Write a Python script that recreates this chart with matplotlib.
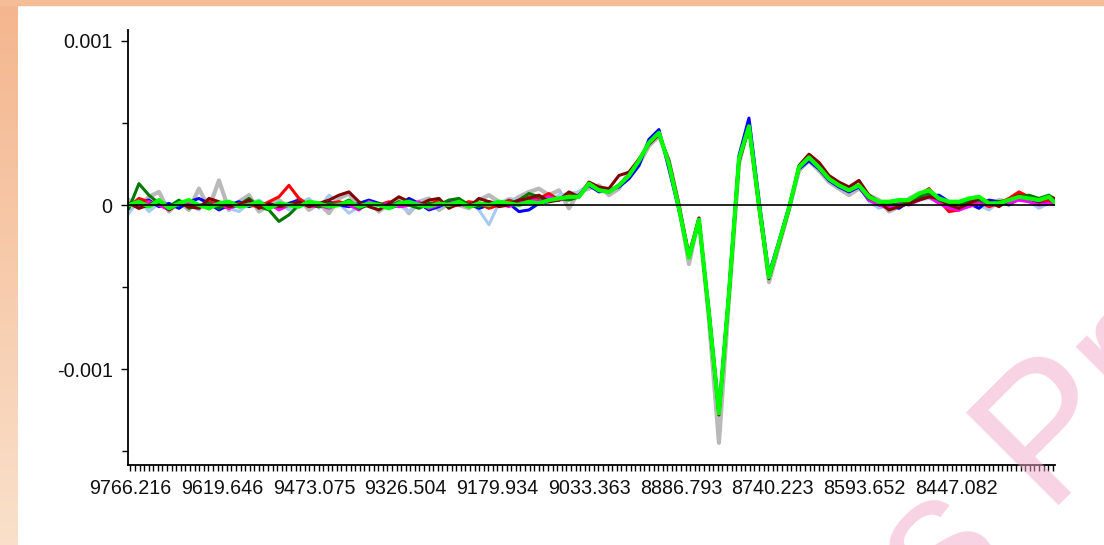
import matplotlib

matplotlib.use('Agg')

import matplotlib.pyplot as plt
from matplotlib.patches import Rectangle
from matplotlib.colors import LinearSegmentedColormap
from matplotlib import ticker
import numpy as np

plt.rcParams['font.family'] = ['Liberation Sans', 'DejaVu Sans']

# wavenumber grid (cm-1), descending, one point every ~16 units
WN_START = 9768.5
WN_STEP = -15.97
N_POINTS = 94

# x tick labels as printed by the instrument software
X_LABELS = ['9766.216', '9619.646', '9473.075', '9326.504', '9179.934',
            '9033.363', '8886.793', '8740.223', '8593.652', '8447.082']
Y_LABELS = ['-0.001', '0', '0.001']
Y_MAJOR = [-0.001, 0.0, 0.001]
Y_MINOR = [-0.0015, -0.0005, 0.0005]

# values in units of 1e-5, split in baseline (left), band (middle), baseline (right)
LEFT_BLUE = [0, 2, 3, -1, 1, -2, 2, 4, 1, -3, 0, 2, -1, 1, 0, -2, 1, 3, 0, -1,
             2, 0, -1, 1, 3, 1, -2, 0, 4, 1, -3, -1, 2, 0, 1, -2, 0, 2, 1, -4,
             -3, 1, 2, 4, 5, 6]
LEFT_RED = [-1, 4, 2, 0, -2, 1, 0, -1, 2, 0, -2, 1, 0, -1, 2, 5, 12, 4, 0, -1,
            1, 2, 0, -2, 1, 0, 2, -1, 0, 1, 0, 3, -1, 0, 2, 1, -2, 0, 3, 1,
            5, 4, 7, 3, 6, 5]
LEFT_DARKRED = [1, -2, 0, 3, -3, 1, -1, -2, 4, 2, -1, 0, 3, -2, 1, -1, 0, 2, -1, 1,
                3, 6, 8, 2, -1, -3, 1, 5, 2, 0, 3, 4, -2, 1, -1, 4, 2, -1, 0, 3,
                4, 6, 2, 3, 8, 5]
LEFT_DARKGREEN = [-2, 13, 6, 1, -1, 3, -2, 0, 1, -2, 2, 0, 4, -1, -3, -10, -6, 0, 2, -1,
                  1, 0, 3, -2, 0, 1, -1, 2, 0, -2, 1, 0, 3, 4, 0, -1, 2, 0, 1, 3,
                  7, 5, 2, 4, 3, 5]
LEFT_MAGENTA = [1, -1, 2, 0, -3, 1, 2, -1, 0, 1, -2, 0, 2, -1, 1, -3, 0, 2, -1, 0,
                -2, 1, 0, -3, 2, 0, 1, -1, 0, 2, -2, 0, 1, 3, -1, 0, 2, 1, -1, 2,
                4, 2, 5, 3, 4, 6]
LEFT_LIGHTBLUE = [-5, 3, -4, 1, -2, 2, 0, -3, 2, 1, -2, -4, 1, 3, -1, 2, -3, 1, 4, -2,
                  6, 1, -5, -1, 2, -3, 1, 0, -4, 2, 1, -2, 3, 0, 2, -3, -12, 1, 4, 3,
                  2, 5, 3, 6, 7, 8]
LEFT_GRAY = [3, -2, 5, 8, -4, 2, -3, 10, -2, 15, -3, 2, 6, -4, 0, 3, -2, 4, -3, 1,
             -5, 4, 7, -2, 2, -4, 1, 3, -5, 2, 4, -3, 1, 0, -2, 3, 6, 2, 1, 5,
             8, 10, 6, 9, -2, 8]
LEFT_LIME = [0, 2, -1, 3, -2, 1, 3, 0, -2, 1, 2, -1, 0, 2, -2, 1, 0, -1, 2, 1,
             -1, 0, 2, -1, 1, 0, -2, 1, 2, 0, -1, 1, 0, 2, -1, 1, 0, 2, 1, 0,
             2, 1, 3, 4, 5, 5]

PEAK_MAIN = [13, 9, 8, 12, 18, 27, 38, 44, 25, -2, -32, -9, -66, -127, -54, 28, 48, 0,
             -44, -23, -2, 23, 29, 23, 16, 12, 9, 12]
PEAK_GRAY = [10, 12, 6, 10, 20, 25, 36, 42, 27, 0, -36, -8, -70, -145, -58, 25, 50, 2,
             -47, -25, -3, 21, 27, 21, 14, 10, 6, 10]
PEAK_BLUE = [12, 8, 9, 11, 16, 24, 40, 46, 22, -3, -31, -10, -64, -125, -52, 30, 53, 3,
             -42, -22, -1, 22, 27, 22, 15, 11, 8, 11]
PEAK_DARKRED = [14, 11, 10, 18, 20, 28, 37, 43, 27, 0, -30, -8, -68, -128, -56, 26, 47, -2,
                -45, -24, -3, 24, 31, 26, 18, 14, 11, 15]

RIGHT_BLUE = [3, 1, 0, -2, 2, 4, 5, 6, 2, 0, 1, -2, 3, 2, 0, 4, 3, 1, 2, 0]
RIGHT_RED = [4, 0, -1, 1, 3, 6, 10, 3, -4, -3, 0, 2, -1, 1, 4, 8, 5, 2, 3, 1]
RIGHT_DARKRED = [6, 2, -3, -1, 1, 3, 5, 4, 0, -2, 1, 4, 2, -1, 3, 6, 4, 2, 5, 3]
RIGHT_DARKGREEN = [4, 2, 1, 0, 2, 5, 7, 3, 1, 0, 2, 3, 1, 2, 3, 5, 6, 4, 6, 2]
RIGHT_MAGENTA = [3, 0, -2, 1, 0, 3, 5, 1, -2, -3, -1, 1, 0, 2, 1, 3, 2, 0, 1, 0]
RIGHT_LIGHTBLUE = [2, -2, 0, -1, 1, 3, 4, 2, 0, -2, 1, 0, -3, 2, 1, 4, 2, -2, 1, 0]
RIGHT_GRAY = [6, 3, -4, -1, 4, 7, 8, 5, -2, -3, 2, 1, -1, 3, 2, 5, 4, 1, 2, 0]
RIGHT_LIME = [5, 2, 2, 3, 3, 7, 9, 4, 2, 2, 4, 5, 1, 1, 3, 5, 4, 3, 5, -1]

# drawing order: first is bottom
SERIES = [
    ('#B9B9B9', 3.0, LEFT_GRAY, PEAK_GRAY, RIGHT_GRAY),
    ('#A6CAF0', 2.2, LEFT_LIGHTBLUE, PEAK_MAIN, RIGHT_LIGHTBLUE),
    ('#0000FF', 2.2, LEFT_BLUE, PEAK_BLUE, RIGHT_BLUE),
    ('#FF0000', 2.2, LEFT_RED, PEAK_MAIN, RIGHT_RED),
    ('#FF00FF', 2.2, LEFT_MAGENTA, PEAK_MAIN, RIGHT_MAGENTA),
    ('#007800', 2.2, LEFT_DARKGREEN, PEAK_MAIN, RIGHT_DARKGREEN),
    ('#800000', 2.2, LEFT_DARKRED, PEAK_DARKRED, RIGHT_DARKRED),
    ('#00FF00', 3.0, LEFT_LIME, PEAK_MAIN, RIGHT_LIME),
]

wavenumber = WN_START + WN_STEP * np.arange(N_POINTS)

fig = plt.figure(figsize=(11.04, 5.45), dpi=100, facecolor='white')

# peach frame of the screenshot
strip = fig.add_axes([0, 0, 18 / 1104, 1], zorder=-5)
strip.imshow(np.linspace(0, 1, 100).reshape(-1, 1), aspect='auto',
             cmap=LinearSegmentedColormap.from_list('peach', ['#F4B68E', '#FAE0CA']))
strip.axis('off')
fig.add_artist(Rectangle((0, 1 - 5 / 545), 1, 5 / 545, transform=fig.transFigure,
                         color='#F5BD95', zorder=-4))

ax = fig.add_axes([128 / 1104, 1 - 465 / 545, 927 / 1104, 435 / 545])
for color, lw, left, peak, right in SERIES:
    values = np.array(left + peak + right) * 1e-5
    ax.plot(wavenumber, values, color=color, lw=lw, solid_joinstyle='round')
ax.axhline(0, color='black', lw=1.2, zorder=5)

ax.set_xlim(9770.0, 8289.6)
ax.set_ylim(-0.001585, 0.001067)

x_major = [float(s) for s in X_LABELS]
step = (x_major[0] - x_major[1]) / 20
ax.xaxis.set_major_locator(ticker.FixedLocator(x_major))
ax.xaxis.set_major_formatter(ticker.FixedFormatter(X_LABELS))
ax.xaxis.set_minor_locator(ticker.FixedLocator(np.arange(x_major[0], 8289.6, -step)))
ax.yaxis.set_major_locator(ticker.FixedLocator(Y_MAJOR))
ax.yaxis.set_major_formatter(ticker.FixedFormatter(Y_LABELS))
ax.yaxis.set_minor_locator(ticker.FixedLocator(Y_MINOR))

ax.tick_params(which='both', length=4, width=1, color='black', labelsize=14.2,
               labelcolor='#111111', pad=6)
ax.tick_params(axis='y', which='major', length=5)
for side in ('top', 'right'):
    ax.spines[side].set_visible(False)
for side in ('left', 'bottom'):
    ax.spines[side].set_linewidth(1.3)

# watermark from the source screenshot
fig.text(944 / 1104, 1 - 621 / 545, 's Pr', fontsize=137, color='#F0A8C8', alpha=0.5,
         rotation=45, rotation_mode='anchor', ha='left', va='baseline', zorder=10)

fig.savefig('out.png', dpi=100, facecolor='white')
